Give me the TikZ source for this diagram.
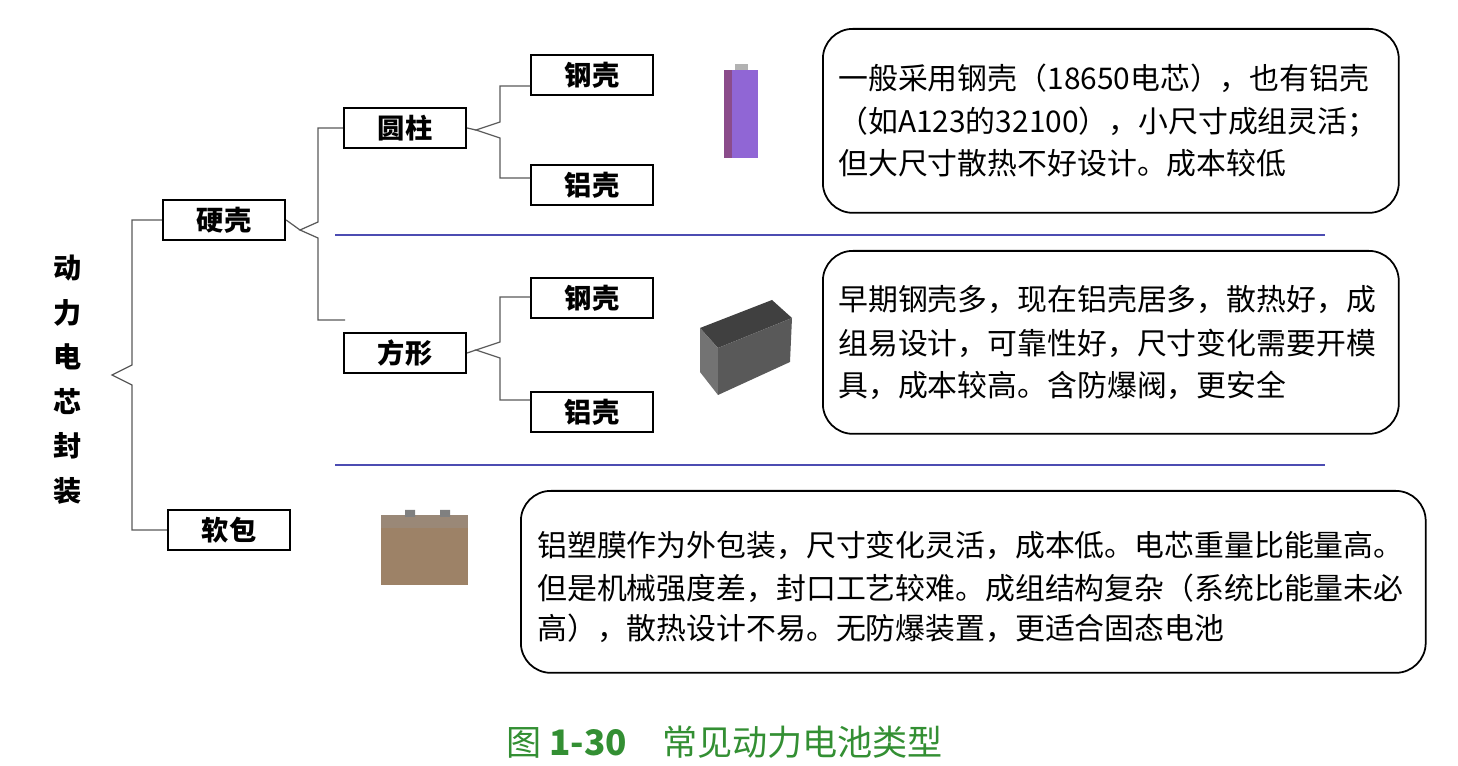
\documentclass[tikz,border=0pt]{standalone}
\usepackage{fontspec}
\setmainfont{Noto Sans CJK SC}
\begin{document}
\begin{tikzpicture}[x=0.02cm,y=-0.02cm,
  lbl/.style={draw,line width=1pt,minimum width=2.45cm,minimum height=0.8cm,font=\fontsize{15.5}{17}\selectfont\bfseries},
  note/.style={draw,line width=1pt,rounded corners=0.6cm},
  txt/.style={anchor=west,font=\fontsize{17}{19}\selectfont,inner sep=0},
  br/.style={line width=0.7pt,gray!70!black}]
\useasboundingbox (0,0) rectangle (1458,766);
% vertical title
\foreach \c [count=\i] in {动,力,电,芯,封,装}
  \node[font=\fontsize{16}{17}\selectfont\bfseries] (t\i) at (68,{268+44.5*(\i-1)}) {\c};
% boxes
\node[lbl] (hk) at (224,220) {硬壳};
\node[lbl] (rb) at (229,530) {软包};
\node[lbl] (yz) at (405,128) {圆柱};
\node[lbl] (fx) at (405,353) {方形};
\node[lbl] (g1) at (592,75) {钢壳};
\node[lbl] (l1) at (592,185) {铝壳};
\node[lbl] (g2) at (592,298) {钢壳};
\node[lbl] (l2) at (592,412) {铝壳};
% brackets
\draw[br] (hk.west) -- (132,220) -- (132,365) -- (112,375) -- (132,385) -- (132,530) -- (rb.west);
\draw[br] (hk.east) -- (300,230);
\draw[br] (yz.west) -- (318,128) -- (318,222) -- (300,230) -- (318,238) -- (318,320) -- (345,320);
\draw[br] (yz.east) -- (476,130);
\draw[br] (530,86) -- (500,86) -- (500,122) -- (476,130) -- (500,138) -- (500,178) -- (530,178);
\draw[br] (fx.east) -- (476,350);
\draw[br] (530,297) -- (500,297) -- (500,342) -- (476,350) -- (500,358) -- (500,400) -- (530,400);
% separators
\draw[line width=0.8pt,gray!60!blue] (335,235) -- (1325,235);
\draw[line width=0.8pt,gray!60!blue] (335,465) -- (1325,465);
% battery pictures
\fill[violet!55!blue!60] (724,70) rectangle (758,158);
\fill[violet!70!black!70] (724,70) rectangle (732,158);
\fill[gray!60] (735,64) rectangle (748,70);
\fill[black!75] (700,328) -- (772,300) -- (792,318) -- (718,348) -- cycle;
\fill[black!55] (700,328) -- (718,348) -- (718,395) -- (700,372) -- cycle;
\fill[black!65] (718,348) -- (792,318) -- (790,362) -- (718,395) -- cycle;
\fill[brown!60!black!70] (381,522) rectangle (468,585);
\fill[brown!45!black!60] (381,515) rectangle (468,528);
\fill[gray] (405,510) rectangle (415,517) (440,510) rectangle (450,517);
% notes
\node[note,minimum width=11.52cm,minimum height=3.68cm,anchor=north west] (n1) at (822,28) {};
\node[note,minimum width=11.52cm,minimum height=3.66cm,anchor=north west] (n2) at (822,250) {};
\node[note,minimum width=18.1cm,minimum height=3.64cm,anchor=north west] (n3) at (520,490) {};
\node[txt] at (838,78) {一般采用钢壳（18650电芯），也有铝壳};
\node[txt] at (838,122) {（如A123的32100），小尺寸成组灵活；};
\node[txt] at (838,163) {但大尺寸散热不好设计。成本较低};
\node[txt] at (838,300) {早期钢壳多，现在铝壳居多，散热好，成};
\node[txt] at (838,343) {组易设计，可靠性好，尺寸变化需要开模};
\node[txt] at (838,385) {具，成本较高。含防爆阀，更安全};
\node[txt] at (537,545) {铝塑膜作为外包装，尺寸变化灵活，成本低。电芯重量比能量高。};
\node[txt] at (537,588) {但是机械强度差，封口工艺较难。成组结构复杂（系统比能量未必};
\node[txt] at (537,628) {高），散热设计不易。无防爆装置，更适合固态电池};
% caption
\node[font=\fontsize{20}{22}\selectfont,text=green!45!black!80,anchor=west] (cap) at (500,742) {图 \textbf{1-30}\quad 常见动力电池类型};
\end{tikzpicture}
\end{document}
